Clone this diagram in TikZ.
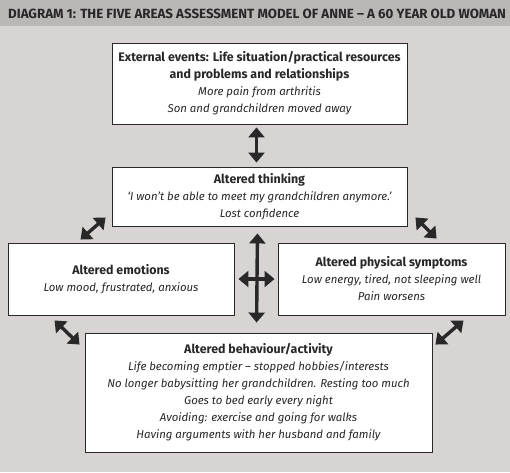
\documentclass[tikz,border=0pt]{standalone}
\usepackage{fontspec}
\setmainfont{Fira Sans}
\usetikzlibrary{arrows.meta}
\definecolor{bgcolor}{RGB}{216,212,211}
\definecolor{headcolor}{RGB}{186,183,182}
\definecolor{inkcolor}{RGB}{40,40,40}
\newcommand{\areatitle}[1]{{\fontsize{12.4}{17}\selectfont\upshape\bfseries #1}}

\begin{document}
\begin{tikzpicture}[%
    x=1pt, y=1pt,                             % one unit per pixel of the page
    font=\fontsize{11.4}{17}\selectfont\itshape, % body text of the boxes
    every node/.style={text=inkcolor},
    ]
\tikzset{
  box/.style={draw=inkcolor, line width=0.9pt, fill=white, align=center, inner sep=0pt},
  link/.style={draw=inkcolor, line width=3.4pt,
    {Triangle[length=10pt,width=16pt]}-{Triangle[length=10pt,width=16pt]}},
}

% page and header band
\useasboundingbox (0,0) rectangle (510,-472);
\fill[bgcolor] (0,0) rectangle (510,-472);
\fill[headcolor] (0,0) rectangle (510,-26);
\node[anchor=west, inner sep=0pt, font=\fontsize{13.3}{15}\selectfont\bfseries] (head) at (8,-14)
  {DIAGRAM 1: THE FIVE AREAS ASSESSMENT MODEL OF ANNE – A 60 YEAR OLD WOMAN};

% the five areas
\node[box, minimum width=295pt, minimum height=81pt] (ext) at (259.5,-83.5)
  {\areatitle{External events: Life situation/practical resources}\\
   \areatitle{and problems and relationships}\\
   More pain from arthritis\\
   Son and grandchildren moved away};
\node[box, minimum width=295pt, minimum height=59pt] (think) at (259.5,-196.5)
  {\areatitle{Altered thinking}\\
   ‘I won’t be able to meet my grandchildren anymore.’\\
   Lost confidence};
\node[box, minimum width=226pt, minimum height=72pt] (emo) at (121,-279)
  {\areatitle{Altered emotions}\\
   Low mood, frustrated, anxious};
\node[box, minimum width=227pt, minimum height=72pt] (phys) at (391.5,-279)
  {\areatitle{Altered physical symptoms}\\
   Low energy, tired, not sleeping well\\
   Pain worsens};
\node[box, minimum width=347pt, minimum height=119pt] (behav) at (258.5,-392.5)
  {\areatitle{Altered behaviour/activity}\\
   Life becoming emptier – stopped hobbies/interests\\
   No longer babysitting her grandchildren. Resting too much\\
   Goes to bed early every night\\
   Avoiding: exercise and going for walks\\
   Having arguments with her husband and family};

% links between the areas
\draw[link, shorten <=3pt, shorten >=4pt] ([xshift=-3pt]ext.south) -- ([xshift=-3pt]think.north);
\draw[link, shorten <=7pt, shorten >=10pt] ([xshift=-2pt]think.south) -- ([xshift=-2pt]behav.north);
\draw[link, shorten <=4pt, shorten >=3pt] (emo.east) -- (phys.west);
\draw[link] ([shift={(73pt,3pt)}]emo.north west) -- ([shift={(-6pt,9pt)}]think.south west);
\draw[link] ([shift={(8pt,9pt)}]think.south east) -- ([shift={(159pt,4pt)}]phys.north west);
\draw[link] ([shift={(47pt,-5pt)}]emo.south west) -- ([shift={(-5pt,-12pt)}]behav.north west);
\draw[link] ([shift={(3pt,-12pt)}]behav.north east) -- ([shift={(-42pt,-5pt)}]phys.south east);

\end{tikzpicture}
\end{document}
